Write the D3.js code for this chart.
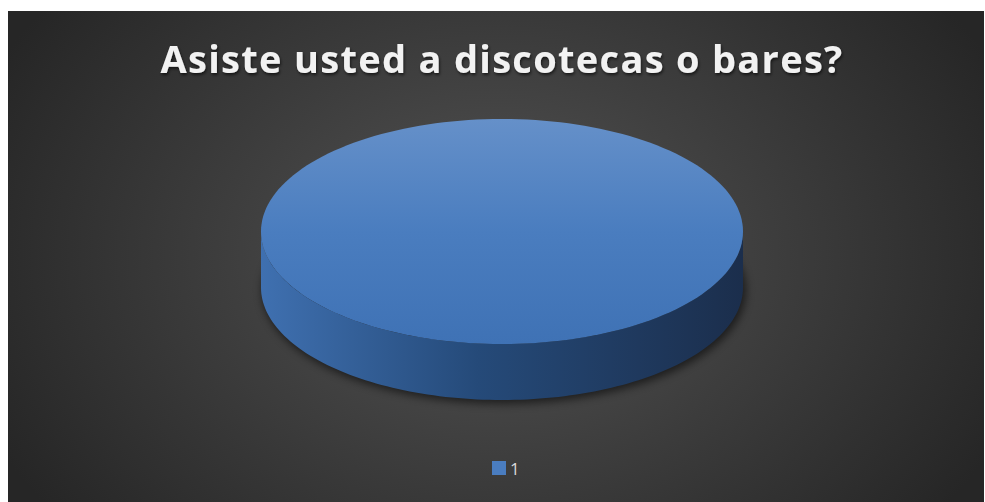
<!DOCTYPE html>
<html>
<head>
<meta charset="utf-8">
<script src="https://cdn.jsdelivr.net/npm/d3@7"></script>
<style>
  html, body { margin: 0; padding: 0; background: #ffffff; }
  svg { display: block; }
</style>
</head>
<body>
<div id="chart"></div>
<script>
const title = "Asiste usted a discotecas o bares?";
const categories = ["1"];
const values = [1];

const width = 985, height = 502;
const frame = { left: 8, top: 11, right: 984, bottom: 502 };

const svg = d3.select("#chart").append("svg")
    .attr("width", width)
    .attr("height", height);

const defs = svg.append("defs");

let bg = defs.append("radialGradient")
    .attr("id", "bg")
    .attr("gradientUnits", "userSpaceOnUse")
    .attr("cx", 496).attr("cy", 256).attr("r", 560)
    .attr("gradientTransform", "translate(496,256) scale(1,0.75) translate(-496,-256)");
bg.append("stop").attr("offset", "0%").attr("stop-color", "#545454");
bg.append("stop").attr("offset", "100%").attr("stop-color", "#262626");

let topGrad = defs.append("linearGradient")
    .attr("id", "topFill").attr("x1", 0).attr("y1", 0).attr("x2", 0).attr("y2", 1);
topGrad.append("stop").attr("offset", "0%").attr("stop-color", "#6590c9");
topGrad.append("stop").attr("offset", "50%").attr("stop-color", "#4a7dbf");
topGrad.append("stop").attr("offset", "100%").attr("stop-color", "#3f72b5");

let sideGrad = defs.append("linearGradient")
    .attr("id", "sideFill").attr("x1", 0).attr("y1", 0).attr("x2", 1).attr("y2", 0);
sideGrad.append("stop").attr("offset", "0%").attr("stop-color", "#3f70b0");
sideGrad.append("stop").attr("offset", "45%").attr("stop-color", "#254a79");
sideGrad.append("stop").attr("offset", "100%").attr("stop-color", "#1b2e4c");

defs.append("filter").attr("id", "blur")
    .attr("x", "-20%").attr("y", "-20%").attr("width", "140%").attr("height", "140%")
    .append("feGaussianBlur").attr("stdDeviation", 4);

let ts = defs.append("filter").attr("id", "textShadow")
    .attr("x", "-10%").attr("y", "-30%").attr("width", "120%").attr("height", "160%");
ts.append("feDropShadow").attr("dx", 1).attr("dy", 2).attr("stdDeviation", 1.6)
    .attr("flood-color", "#000").attr("flood-opacity", 0.6);

// background
svg.append("rect")
    .attr("x", frame.left).attr("y", frame.top)
    .attr("width", frame.right - frame.left).attr("height", frame.bottom - frame.top)
    .attr("fill", "url(#bg)");

// title
svg.append("text")
    .attr("x", 502).attr("y", 73)
    .attr("text-anchor", "middle")
    .attr("font-family", "'Open Sans', 'Noto Sans', sans-serif")
    .attr("font-weight", "bold")
    .attr("font-size", 38)
    .attr("letter-spacing", 1.3)
    .attr("fill", "#f2f2f2")
    .attr("filter", "url(#textShadow)")
    .text(title);

// 3D pie
const cx = 502, cy = 231.5, rx = 241, ry = 112.5, depth = 56;
const pie = d3.pie().sort(null)(values);

const px = a => cx + rx * Math.sin(a);
const py = a => cy - ry * Math.cos(a);

function topPath(d) {
    const n = 180;
    const pts = d3.range(n + 1).map(i => {
        const a = d.startAngle + (d.endAngle - d.startAngle) * i / n;
        return [px(a), py(a)];
    });
    if (d.endAngle - d.startAngle < 2 * Math.PI - 1e-6) pts.push([cx, cy]);
    return d3.line()(pts) + "Z";
}

function sidePath(d) {
    const a0 = Math.max(d.startAngle, Math.PI / 2);
    const a1 = Math.min(d.endAngle, 3 * Math.PI / 2);
    if (a1 <= a0) return null;
    const n = 120;
    const upper = d3.range(n + 1).map(i => {
        const a = a0 + (a1 - a0) * i / n;
        return [px(a), py(a)];
    });
    const lower = upper.slice().reverse().map(p => [p[0], p[1] + depth]);
    return d3.line()(upper.concat(lower)) + "Z";
}

const pieG = svg.append("g");

// shadow under the pie
pieG.append("ellipse")
    .attr("cx", cx + 2).attr("cy", cy + depth + 3)
    .attr("rx", rx + 1).attr("ry", ry + 1)
    .attr("fill", "#000").attr("opacity", 0.55)
    .attr("filter", "url(#blur)");

pieG.selectAll("path.side")
    .data(pie)
    .join("path")
    .attr("class", "side")
    .attr("d", sidePath)
    .attr("fill", "url(#sideFill)");

pieG.selectAll("path.top")
    .data(pie)
    .join("path")
    .attr("class", "top")
    .attr("d", topPath)
    .attr("fill", "url(#topFill)");

// legend
const legend = svg.append("g").attr("transform", "translate(492,461)");
const item = legend.selectAll("g").data(categories).join("g");
item.append("rect")
    .attr("width", 14).attr("height", 14)
    .attr("fill", "#4a7dc0");
item.append("text")
    .attr("x", 18).attr("y", 14)
    .attr("font-family", "'Open Sans', 'Noto Sans', sans-serif")
    .attr("font-size", 17)
    .attr("fill", "#d9d9d9")
    .text(d => d);
</script>
</body>
</html>
